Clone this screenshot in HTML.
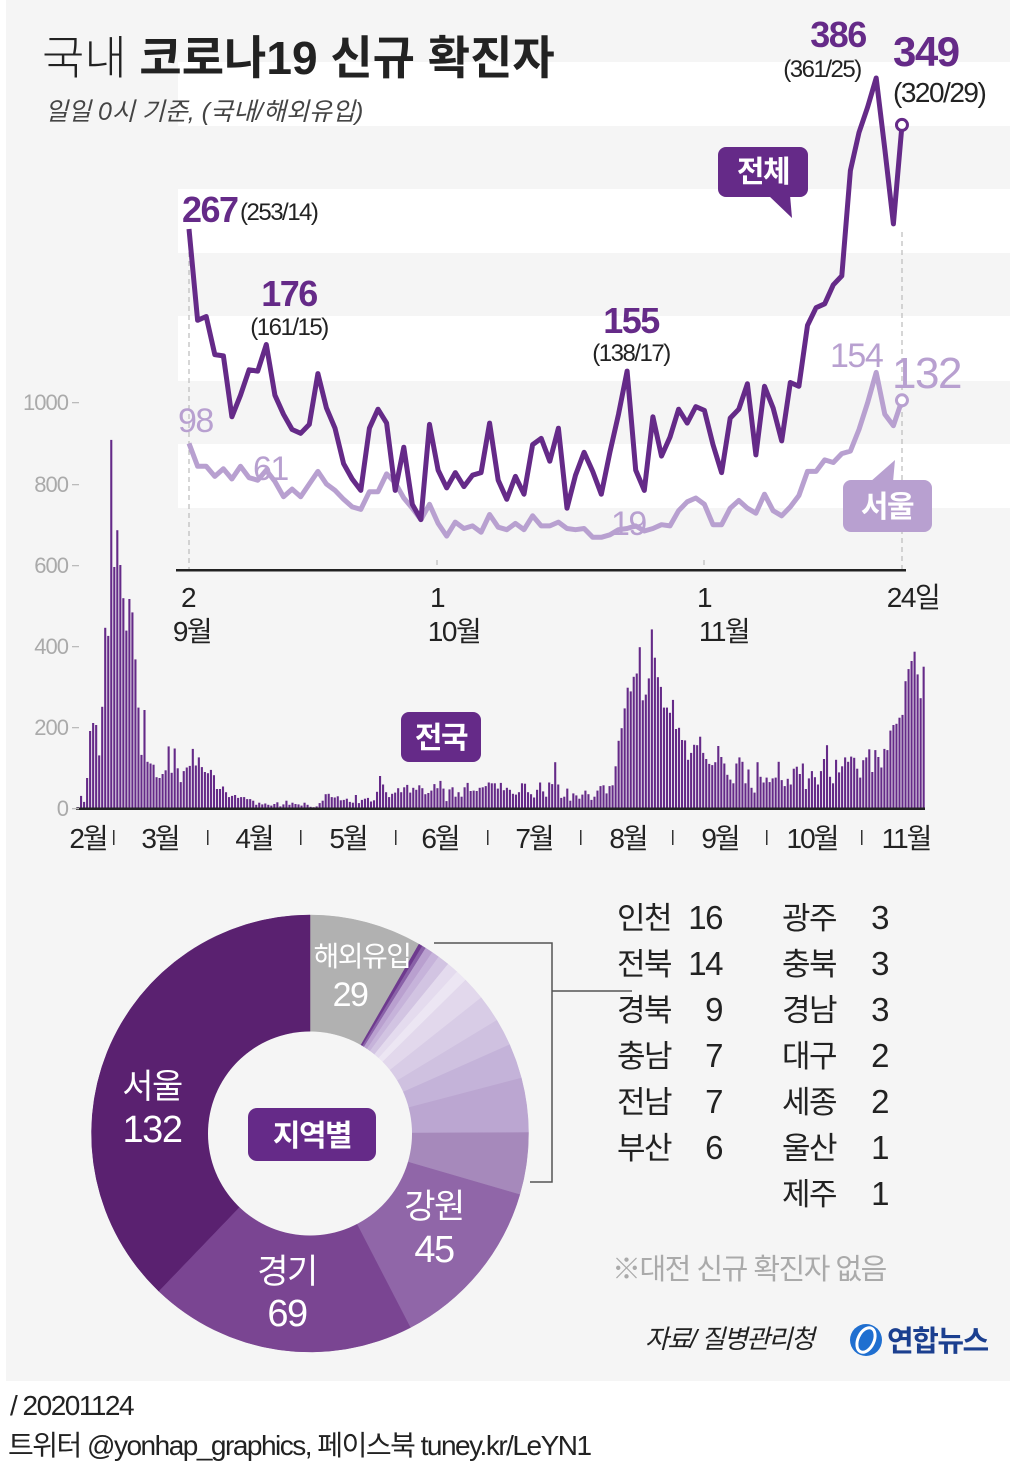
<!DOCTYPE html>
<html><head><meta charset="utf-8">
<style>
html,body{margin:0;padding:0;background:#fff;}
svg{display:block;font-family:"Liberation Sans","Noto Sans CJK KR",sans-serif;}
</style></head>
<body>
<svg id="s" width="1021" height="1468" viewBox="0 0 1021 1468" xmlns="http://www.w3.org/2000/svg">
<rect x="6" y="0" width="1004" height="1381" fill="#f5f5f5"/>
<g fill="#fff">
<rect x="178" y="62" width="832" height="64"/>
<rect x="178" y="189" width="832" height="64"/>
<rect x="178" y="316" width="832" height="65"/>
<rect x="178" y="444" width="832" height="64"/>
</g>
<g id="bars"></g>
<g id="line"></g>
<text x="42" y="74" font-size="46" fill="#222"><tspan font-weight="300">국내 </tspan><tspan font-weight="bold">코로나19 신규 확진자</tspan></text>
<text x="45" y="120" font-size="25" fill="#444" font-style="italic">일일 0시 기준, (국내/해외유입)</text>
</svg>
<script>
var NS="http://www.w3.org/2000/svg",S=document.getElementById('s');
function el(t,a,p,txt){var e=document.createElementNS(NS,t);for(var k in a)e.setAttribute(k,a[k]);if(txt!==undefined)e.textContent=txt;(p||S).appendChild(e);return e;}
var nat=[2,30,15,74,190,210,205,130,250,445,425,909,595,686,600,518,438,516,483,367,248,131,242,114,110,107,76,74,84,93,152,87,147,98,64,91,100,104,146,105,125,101,89,86,94,81,
47,47,53,39,27,30,32,25,27,27,22,22,18,8,13,9,11,8,6,10,14,4,9,18,8,13,10,
9,6,13,8,3,2,4,12,18,34,35,27,26,29,19,20,23,15,13,32,12,20,23,25,16,19,40,79,58,39,27,
35,38,49,39,51,57,38,50,45,56,49,34,37,43,59,49,67,48,17,46,51,28,39,28,51,62,42,43,42,50,
51,54,63,61,61,48,62,44,50,45,35,33,39,61,60,39,34,26,45,63,41,28,63,59,113,58,25,28,48,18,36,
31,23,33,43,34,20,28,43,54,56,36,54,56,103,166,197,246,297,288,324,332,397,266,280,320,441,371,323,299,248,248,
235,267,195,198,168,167,119,136,156,155,176,136,121,109,106,113,153,126,110,82,70,61,110,125,114,61,95,50,38,113,
77,63,75,64,73,75,114,69,54,72,58,97,102,84,110,47,73,91,76,58,91,121,155,77,61,119,88,103,125,114,127,
124,97,75,118,125,145,89,143,126,100,146,143,191,205,208,223,230,313,343,363,386,330,271,349];
var bg=document.getElementById('bars');
for(var i=0;i<nat.length;i++){var h=nat[i]*0.405;el('rect',{x:(77+i*3.02).toFixed(2),y:(808-h).toFixed(1),width:2.1,height:h.toFixed(1),fill:'#652a88'},bg);}
el('rect',{x:76,y:807.5,width:849,height:2.5,fill:'#222'});
var yl=[[1000,402],[800,484],[600,565],[400,646],[200,727],[0,808]];
yl.forEach(function(a){el('text',{x:68,y:a[1]+8,'font-size':22,fill:'#aaa','text-anchor':'end','letter-spacing':'-1'},S,a[0]);el('rect',{x:72,y:a[1],width:7,height:1.3,fill:'#bbb'});});
var ml=[['2월',88],['3월',160],['4월',254],['5월',348],['6월',440],['7월',534],['8월',628],['9월',720],['10월',812],['11월',906]];
ml.forEach(function(a){el('text',{x:a[1],y:848,'font-size':28,fill:'#222','text-anchor':'middle','letter-spacing':'-2'},S,a[0]);});
[113,207,300,395,487,580,672,766,861].forEach(function(x){el('rect',{x:x,y:830,width:1.5,height:15,fill:'#333'});});
// line chart
var sep=nat.slice(197);
var seo=[98,80,80,72,78,70,80,71,69,77,68,56,62,56,66,76,66,61,54,48,46,60,60,74,67,55,47,38,50,
35,25,36,31,33,28,42,32,30,35,30,41,33,33,36,31,30,31,24,24,26,30,31,33,29,31,34,33,45,52,55,
50,34,34,47,53,47,43,58,45,41,48,57,76,76,85,83,90,92,109,130,154,121,112,132];
function X(d){return 189+d*8.59;}function Y(v){return 567.8-1.269*v;}
[[189,252],[437,560],[704,560],[902,232]].forEach(function(a){el('line',{x1:a[0],y1:a[1],x2:a[0],y2:570,stroke:'#bbb','stroke-width':1.2,'stroke-dasharray':'5,4'});});
el('rect',{x:176,y:569,width:730,height:2.5,fill:'#222'});
function pl(arr,c){var p=arr.map(function(v,i){return X(i).toFixed(1)+','+Y(v).toFixed(1);}).join(' ');el('polyline',{points:p,fill:'none',stroke:c,'stroke-width':5,'stroke-linejoin':'round'});}
pl(seo,'#b8a0d0');pl(sep,'#652a88');
el('circle',{cx:X(83),cy:Y(132),r:5.5,fill:'#fff',stroke:'#b8a0d0','stroke-width':3});
el('circle',{cx:X(83),cy:Y(349),r:5.5,fill:'#fff',stroke:'#652a88','stroke-width':3});
function T(x,y,s,c,t,o){var a={x:x,y:y,'font-size':s,fill:c,'letter-spacing':'-1.5'};for(var k in o)a[k]=o[k];el('text',a,S,t);}
var D='#652a88',L='#b8a0d0';
T(182,222,36,D,'267',{'font-weight':'bold'});T(240,220,24,'#222','(253/14)');
T(289,306,36,D,'176',{'font-weight':'bold','text-anchor':'middle'});T(289,335,24,'#222','(161/15)',{'text-anchor':'middle'});
T(631,333,36,D,'155',{'font-weight':'bold','text-anchor':'middle'});T(631,361,24,'#222','(138/17)',{'text-anchor':'middle'});
T(838,47,36,D,'386',{'font-weight':'bold','text-anchor':'middle'});T(822,77,24,'#222','(361/25)',{'text-anchor':'middle'});
T(893,66,42,D,'349',{'font-weight':'bold'});T(893,102,28,'#222','(320/29)');
T(178,432,34,L,'98');T(253,480,34,L,'61');T(611,535,34,L,'19');T(830,367,34,L,'154');T(892,388,44,L,'132');
// badges
el('rect',{x:718,y:147,width:90,height:50,rx:8,fill:D});el('polygon',{points:'768,195 790,195 792,218',fill:D});
T(763,182,30,'#fff','전체',{'font-weight':'bold','text-anchor':'middle'});
el('rect',{x:843,y:480,width:89,height:52,rx:8,fill:L});el('polygon',{points:'870,482 893,482 895,460',fill:L});
T(887,517,30,'#fff','서울',{'font-weight':'bold','text-anchor':'middle'});
el('rect',{x:401,y:712,width:80,height:50,rx:8,fill:D});T(441,748,30,'#fff','전국',{'font-weight':'bold','text-anchor':'middle'});
// x labels line chart
[['2',188,607],['9월',192,641],['1',437,607],['10월',454,641],['1',704,607],['11월',724,641],['24일',913,607]].forEach(function(a){T(a[1],a[2],28,'#222',a[0],{'text-anchor':'middle'});});
// donut
var cx=310,cy=1133.5,R=218.5,r=102;
var sl=[[29,'#b1b1b1'],[1,'#6e3a8e'],[1,'#8a62a8'],[2,'#b9a0cf'],[2,'#c6b3da'],[3,'#d2c4e2'],[3,'#e4dbee'],[3,'#ece6f3'],[6,'#e2d8ec'],[7,'#d8cce6'],[7,'#cfc1e0'],[9,'#c4b3d9'],[14,'#bba6d1'],[16,'#a689bb'],[45,'#9066a8'],[69,'#7a4592'],[132,'#5a2170']];
var a0=0;sl.forEach(function(s){var a1=a0+s[0]/349*2*Math.PI;function P(rr,a){return (cx+rr*Math.sin(a)).toFixed(2)+','+(cy-rr*Math.cos(a)).toFixed(2);}
var lg=(a1-a0)>Math.PI?1:0;
el('path',{d:'M'+P(R,a0)+' A'+R+','+R+' 0 '+lg+' 1 '+P(R,a1)+' L'+P(r,a1)+' A'+r+','+r+' 0 '+lg+' 0 '+P(r,a0)+' Z',fill:s[1],stroke:s[1],'stroke-width':0.5});a0=a1;});
el('circle',{cx:cx,cy:cy,r:r,fill:'#f5f5f5'});
el('rect',{x:248,y:1108,width:128,height:53,rx:9,fill:D});T(312,1146,30,'#fff','지역별',{'font-weight':'bold','text-anchor':'middle'});
T(362,966,28,'#fff','해외유입',{'text-anchor':'middle'});T(350,1006,34,'#fff','29',{'text-anchor':'middle'});
T(152,1098,34,'#fff','서울',{'text-anchor':'middle'});T(152,1142,38,'#fff','132',{'text-anchor':'middle'});
T(287,1283,34,'#fff','경기',{'text-anchor':'middle'});T(287,1326,38,'#fff','69',{'text-anchor':'middle'});
T(434,1218,34,'#fff','강원',{'text-anchor':'middle'});T(434,1262,38,'#fff','45',{'text-anchor':'middle'});
el('polyline',{points:'434,943 552,943 552,1182 530,1182',fill:'none',stroke:'#555','stroke-width':1.5});
el('line',{x1:552,y1:991,x2:632,y2:991,stroke:'#555','stroke-width':1.5});
// legend
var c1=[['인천','16'],['전북','14'],['경북','9'],['충남','7'],['전남','7'],['부산','6']];
var c2=[['광주','3'],['충북','3'],['경남','3'],['대구','2'],['세종','2'],['울산','1'],['제주','1']];
c1.forEach(function(a,i){var y=929+i*46;T(617,y,31,'#222',a[0]);T(722,y,33,'#222',a[1],{'text-anchor':'end'});});
c2.forEach(function(a,i){var y=929+i*46;T(782,y,31,'#222',a[0]);T(888,y,33,'#222',a[1],{'text-anchor':'end'});});
T(612,1279,29,'#aaa','※대전 신규 확진자 없음');
T(645,1348,26,'#222','자료/ 질병관리청',{'font-style':'italic'});
el('circle',{cx:866,cy:1340,r:16,fill:'#1f6fd0'});el('ellipse',{cx:866,cy:1340,rx:8,ry:13,fill:'none',stroke:'#fff','stroke-width':3,transform:'rotate(25 866 1340)'});
T(887,1351,29,'#1b3f8f','연합뉴스',{'font-weight':'bold'});
T(10,1415,28,'#222','/ 20201124');
T(8,1455,28,'#222','트위터 @yonhap_graphics, 페이스북 tuney.kr/LeYN1');
</script>
</body></html>
